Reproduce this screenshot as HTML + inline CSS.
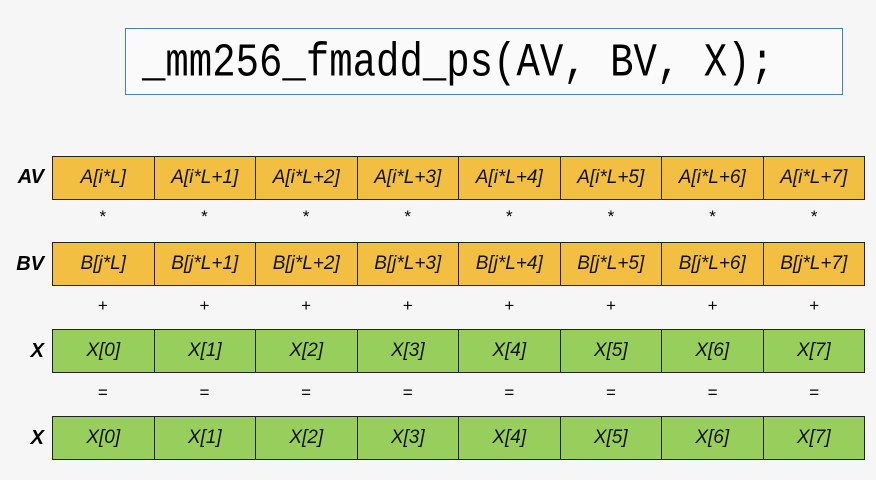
<!DOCTYPE html>
<html><head><style>
body{margin:0;width:876px;height:480px;background:#f6f6f6;position:relative;overflow:hidden;font-family:"Liberation Sans",sans-serif}
.t{position:absolute;left:125px;top:28px;width:718px;height:67px;border:1.5px solid #4a7ebb;background:#fafafa;box-sizing:border-box}
.t span{position:absolute;left:16px;top:8px;font-family:"Liberation Mono",monospace;font-size:39px;color:#000;white-space:nowrap;transform:scaleY(1.2);transform-origin:0 0}
.row{position:absolute;left:52px;width:813px;height:44px;display:flex;border:1.5px solid #222;box-sizing:border-box}
.row div{flex:1;border-right:1.5px solid #222;display:flex;align-items:center;justify-content:center;font-size:19px;font-style:italic;color:#111}
.row div:last-child{border-right:none}
.y{background:#f2bf42}.g{background:#98cf5c}
.lab{position:absolute;left:0;width:44px;text-align:right;font-weight:bold;font-style:italic;font-size:20px}
.ops{position:absolute;left:52px;width:813px;display:flex;font-size:17px}
.ops div{flex:1;text-align:center}
</style></head><body>
<div class="t"><span>_mm256_fmadd_ps(AV, BV, X);</span></div>
<div class="lab" style="top:166px">AV</div>
<div class="row y" style="top:156px"><div>A[i*L]</div><div>A[i*L+1]</div><div>A[i*L+2]</div><div>A[i*L+3]</div><div>A[i*L+4]</div><div>A[i*L+5]</div><div>A[i*L+6]</div><div>A[i*L+7]</div></div>
<div class="ops" style="top:207px"><div>*</div><div>*</div><div>*</div><div>*</div><div>*</div><div>*</div><div>*</div><div>*</div></div>
<div class="lab" style="top:253px">BV</div>
<div class="row y" style="top:242px"><div>B[j*L]</div><div>B[j*L+1]</div><div>B[j*L+2]</div><div>B[j*L+3]</div><div>B[j*L+4]</div><div>B[j*L+5]</div><div>B[j*L+6]</div><div>B[j*L+7]</div></div>
<div class="ops" style="top:296px"><div>+</div><div>+</div><div>+</div><div>+</div><div>+</div><div>+</div><div>+</div><div>+</div></div>
<div class="lab" style="top:340px">X</div>
<div class="row g" style="top:329px"><div>X[0]</div><div>X[1]</div><div>X[2]</div><div>X[3]</div><div>X[4]</div><div>X[5]</div><div>X[6]</div><div>X[7]</div></div>
<div class="ops" style="top:383px"><div>=</div><div>=</div><div>=</div><div>=</div><div>=</div><div>=</div><div>=</div><div>=</div></div>
<div class="lab" style="top:427px">X</div>
<div class="row g" style="top:416px"><div>X[0]</div><div>X[1]</div><div>X[2]</div><div>X[3]</div><div>X[4]</div><div>X[5]</div><div>X[6]</div><div>X[7]</div></div>
</body></html>
